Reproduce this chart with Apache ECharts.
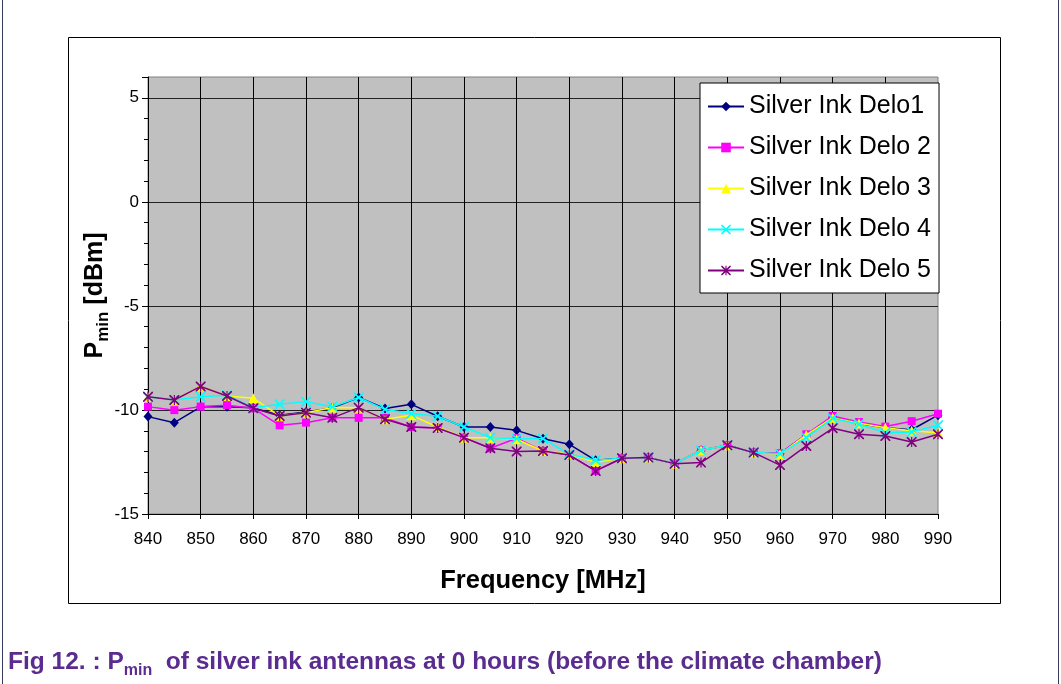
<!DOCTYPE html>
<html><head><meta charset="utf-8">
<script src="https://cdn.jsdelivr.net/npm/echarts@6/dist/echarts.min.js"></script>
<style>html,body{margin:0;padding:0;background:#fff}#c{width:1061px;height:684px}</style>
</head><body><div id="c"></div>
<script>
var freq = [840,845,850,855,860,865,870,875,880,885,890,895,900,905,910,915,920,925,930,935,940,945,950,955,960,965,970,975,980,985,990];
var delo1 = [-10.32,-10.61,-9.85,-9.85,-9.9,-10.25,-10.1,-9.9,-9.4,-9.93,-9.73,-10.3,-10.82,-10.82,-10.98,-11.38,-11.65,-12.42,-12.32,-12.29,-12.58,-11.94,-11.7,-12.05,-12.1,-11.2,-10.35,-10.65,-10.85,-10.95,-10.25];
var delo2 = [-9.84,-10.01,-9.84,-9.77,-9.92,-10.74,-10.61,-10.38,-10.38,-10.38,-10.82,-10.87,-11.33,-11.84,-11.36,-11.97,-12.17,-12.93,-12.32,-12.29,-12.58,-11.94,-11.7,-12.05,-12.08,-11.17,-10.29,-10.58,-10.8,-10.54,-10.18];
var delo3 = [-9.37,-9.52,-8.87,-9.33,-9.44,-10.29,-10.13,-9.88,-9.89,-10.45,-10.26,-10.82,-11.33,-11.33,-11.41,-11.97,-12.13,-12.5,-12.32,-12.29,-12.58,-11.94,-11.7,-12.05,-12.13,-11.2,-10.37,-10.64,-10.85,-11.0,-11.09];
var delo4 = [-9.37,-9.52,-9.37,-9.29,-9.89,-9.73,-9.6,-9.85,-9.4,-9.97,-10.18,-10.3,-10.82,-11.33,-11.38,-11.38,-12.13,-12.42,-12.32,-12.29,-12.58,-11.94,-11.7,-12.05,-12.1,-11.33,-10.4,-10.69,-11.09,-11.06,-10.74];
var delo5 = [-9.37,-9.52,-8.87,-9.33,-9.92,-10.29,-10.13,-10.38,-9.89,-10.45,-10.82,-10.87,-11.33,-11.84,-12.0,-11.97,-12.17,-12.93,-12.32,-12.29,-12.58,-12.53,-11.7,-12.05,-12.65,-11.73,-10.88,-11.17,-11.25,-11.54,-11.17];
var seriesNames = ['Silver Ink Delo1','Silver Ink Delo 2','Silver Ink Delo 3','Silver Ink Delo 4','Silver Ink Delo 5'];
var seriesColors = ['#000080','#ff00ff','#ffff00','#00ffff','#800080'];
var yTicks = [-15,-10,-5,0,5];

var FONT = "'Liberation Sans', Arial, sans-serif";
var xPath = 'path://M0,0 L1.2,0 L5,3.8 L8.8,0 L10,0 L10,1.2 L6.2,5 L10,8.8 L10,10 L8.8,10 L5,6.2 L1.2,10 L0,10 L0,8.8 L3.8,5 L0,1.2 Z';
var starPath = 'path://M0,0 L1.2,0 L5,3.8 L8.8,0 L10,0 L10,1.2 L6.2,5 L10,8.8 L10,10 L8.8,10 L5,6.2 L1.2,10 L0,10 L0,8.8 L3.8,5 L0,1.2 Z M4.4,0 L5.6,0 L5.6,10 L4.4,10 Z';
var symbols = ['diamond','rect','triangle',xPath,starPath];
var sizes = [[9,10],8,10,10,10];
var allData = [delo1,delo2,delo3,delo4,delo5];

function pairs(arr){ return freq.map(function(f,i){ return [f, arr[i]]; }); }

var series = allData.map(function(d,i){
  return {
    name: seriesNames[i], type: 'line', data: pairs(d),
    symbol: symbols[i], symbolSize: sizes[i], showSymbol: true,
    lineStyle: {color: seriesColors[i], width: 1.5},
    itemStyle: {color: seriesColors[i], borderWidth: 0},
    emphasis: {disabled: true}, animation: false, z: 2 + i
  };
});

var chart = echarts.init(document.getElementById('c'), null, {renderer: 'canvas'});
chart.setOption({
  animation: false,
  backgroundColor: '#fff',
  textStyle: {fontFamily: FONT},
  grid: {left: 148, right: 123, top: 77, bottom: 170, show: true, backgroundColor: '#c0c0c0', borderColor: '#808080', borderWidth: 1},
  legend: {
    data: seriesNames, orient: 'vertical', left: 700, top: 83,
    padding: [11, 8, 10, 7], itemWidth: 36, itemHeight: 12, itemGap: 16,
    backgroundColor: '#fff', borderColor: '#000', borderWidth: 1,
    textStyle: {fontSize: 25, color: '#000', fontFamily: FONT}
  },
  xAxis: {
    type: 'value', min: 840, max: 990, interval: 10,
    axisLine: {show: true, onZero: false, lineStyle: {color: '#000', width: 1}},
    axisTick: {show: true, length: 5, lineStyle: {color: '#000'}},
    axisLabel: {fontSize: 17, color: '#000', margin: 17, fontFamily: FONT},
    splitLine: {show: true, showMinLine: false, showMaxLine: false, lineStyle: {color: '#000', width: 1}},
    name: 'Frequency [MHz]', nameLocation: 'middle', nameGap: 54,
    nameTextStyle: {fontSize: 25.5, fontWeight: 'bold', color: '#000', fontFamily: FONT}
  },
  yAxis: [{
    type: 'value', min: -15, max: 6, interval: 5,
    axisLine: {show: true, onZero: false, lineStyle: {color: '#000', width: 1}},
    axisTick: {show: true, length: 6, lineStyle: {color: '#000'}},
    axisLabel: {fontSize: 17, color: '#000', margin: 9, fontFamily: FONT,
      formatter: function(v){ return yTicks.indexOf(v) >= 0 ? String(v) : ''; }},
    splitLine: {show: true, showMinLine: false, showMaxLine: false, lineStyle: {color: '#222', width: 1}},
    name: '{b|P}{s|min}{b| [dBm]}', nameLocation: 'middle', nameGap: 40, nameRotate: 90, nameMoveOverlap: false,
    nameTextStyle: {fontFamily: FONT, rich: {
      b: {fontSize: 25, fontWeight: 'bold', color: '#000', fontFamily: FONT, verticalAlign: 'bottom'},
      s: {fontSize: 17, fontWeight: 'bold', color: '#000', fontFamily: FONT, verticalAlign: 'bottom', padding: [0,0,-4,0]}
    }}
  },{
    type: 'value', min: -15, max: 6, interval: 1, position: 'left',
    axisLine: {show: false}, axisTick: {show: true, length: 4, lineStyle: {color: '#000'}},
    axisLabel: {show: false}, splitLine: {show: false}
  }],
  series: series,
  graphic: [
    {type: 'rect', shape: {x: 68.5, y: 37.5, width: 932, height: 566}, style: {fill: 'none', stroke: '#000', lineWidth: 1}, silent: true, z: -1},
    {type: 'line', shape: {x1: 2.5, y1: 0, x2: 2.5, y2: 684}, style: {stroke: '#3a3a5a', lineWidth: 1}, silent: true},
    {type: 'line', shape: {x1: 1058.5, y1: 0, x2: 1058.5, y2: 684}, style: {stroke: '#3a3a5a', lineWidth: 1}, silent: true},
    {type: 'text', left: 8, top: 650, silent: true, style: {
      text: '{a|Fig 12. : P}{s|min}{a|  of silver ink antennas at 0 hours (before the climate chamber)}',
      rich: {
        a: {fontSize: 24.5, fontWeight: 'bold', fill: '#5b2c8f', fontFamily: FONT, verticalAlign: 'bottom'},
        s: {fontSize: 16, fontWeight: 'bold', fill: '#5b2c8f', fontFamily: FONT, verticalAlign: 'bottom', padding: [0,0,-4,0]}
      }
    }}
  ]
});
</script></body></html>
